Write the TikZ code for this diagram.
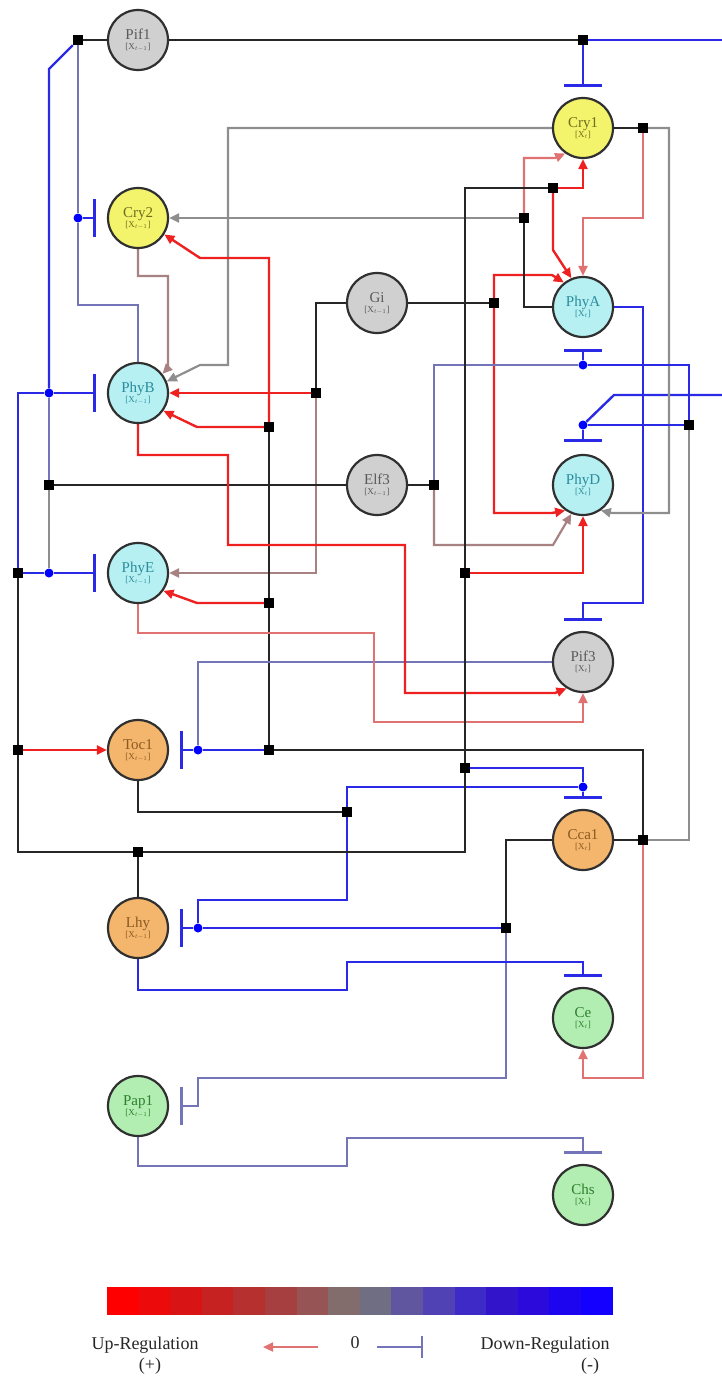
\documentclass[tikz,border=0pt]{standalone}
\usepackage{fontspec}
\setmainfont{Liberation Serif}
\usetikzlibrary{arrows.meta}
\pgfdeclarelayer{bg}
\pgfsetlayers{bg,main}
\definecolor{cBlack}{HTML}{262626}
\definecolor{cGray}{HTML}{8E8E8E}
\definecolor{cRed}{HTML}{EE2020}
\definecolor{cPink}{HTML}{E07272}
\definecolor{cBlue}{HTML}{2A2AE6}
\definecolor{cBlueGray}{HTML}{7474B8}
\definecolor{cBrown}{HTML}{A88282}
\definecolor{fGray}{HTML}{D0D0D0}
\definecolor{fYellow}{HTML}{F4F46C}
\definecolor{fCyan}{HTML}{B6F0F2}
\definecolor{fOrange}{HTML}{F4B56C}
\definecolor{fGreen}{HTML}{B2EEB2}
\definecolor{tGray}{HTML}{5A5A5A}
\definecolor{tYellow}{HTML}{6E6E1E}
\definecolor{tCyan}{HTML}{2A8C9C}
\definecolor{tOrange}{HTML}{8A5A22}
\definecolor{tGreen}{HTML}{2E7E2E}
\definecolor{nBorder}{HTML}{303030}
\newcommand{\gsub}[1]{{\fontsize{9}{9}\selectfont #1}}
\begin{document}
\begin{tikzpicture}[x=1pt,y=-1pt,
  gene/.style={circle, draw=nBorder, line width=2.2pt, minimum size=60pt, inner sep=0pt, align=center, font=\fontsize{15}{13}\selectfont},
  gGray/.style={gene, fill=fGray, text=tGray},
  gYel/.style={gene, fill=fYellow, text=tYellow},
  gCyan/.style={gene, fill=fCyan, text=tCyan},
  gOr/.style={gene, fill=fOrange, text=tOrange},
  gGr/.style={gene, fill=fGreen, text=tGreen},
  junc/.style={rectangle, fill=black, minimum size=10pt, inner sep=0pt},
  bdot/.style={circle, fill=blue, minimum size=9pt, inner sep=0pt},
  arr/.style={-{Triangle[length=10pt,width=9pt]}},
  lk/.style={draw=cBlack, line width=2.5pt},
  lg/.style={draw=cGray, line width=2.2pt},
  lr/.style={draw=cRed, line width=2.4pt, arr},
  lp/.style={draw=cPink, line width=2.2pt, arr},
  lb/.style={draw=cBlue, line width=2.4pt},
  lbg/.style={draw=cBlueGray, line width=2.2pt},
  lbr/.style={draw=cBrown, line width=2.2pt},
  inh/.style={-{Bar[width=38pt,line width=3pt]}},
  inhB/.style={lb, inh},
  inhBG/.style={lbg, inh},
  legend/.style={font=\fontsize{18}{18}\selectfont, text=black!85}
]
\useasboundingbox (0,0) rectangle (722,1382);

% genes
\node[gGray] (Pif1) at (138,40) {Pif1\\[-3pt]\gsub{[X$_{t-1}$]}};
\node[gYel]  (Cry1) at (583,128) {Cry1\\[-3pt]\gsub{[X$_{t}$]}};
\node[gYel]  (Cry2) at (138,218) {Cry2\\[-3pt]\gsub{[X$_{t-1}$]}};
\node[gGray] (Gi)   at (377,303) {Gi\\[-3pt]\gsub{[X$_{t-1}$]}};
\node[gCyan] (PhyA) at (583,307) {PhyA\\[-3pt]\gsub{[X$_{t}$]}};
\node[gCyan] (PhyB) at (138,393) {PhyB\\[-3pt]\gsub{[X$_{t-1}$]}};
\node[gGray] (Elf3) at (377,485) {Elf3\\[-3pt]\gsub{[X$_{t-1}$]}};
\node[gCyan] (PhyD) at (583,485) {PhyD\\[-3pt]\gsub{[X$_{t}$]}};
\node[gCyan] (PhyE) at (138,573) {PhyE\\[-3pt]\gsub{[X$_{t-1}$]}};
\node[gGray] (Pif3) at (583,662) {Pif3\\[-3pt]\gsub{[X$_{t}$]}};
\node[gOr]   (Toc1) at (138,750) {Toc1\\[-3pt]\gsub{[X$_{t-1}$]}};
\node[gOr]   (Cca1) at (583,840) {Cca1\\[-3pt]\gsub{[X$_{t}$]}};
\node[gOr]   (Lhy)  at (138,928) {Lhy\\[-3pt]\gsub{[X$_{t-1}$]}};
\node[gGr]   (Ce)   at (583,1018) {Ce\\[-3pt]\gsub{[X$_{t}$]}};
\node[gGr]   (Pap1) at (138,1106) {Pap1\\[-3pt]\gsub{[X$_{t-1}$]}};
\node[gGr]   (Chs)  at (583,1195) {Chs\\[-3pt]\gsub{[X$_{t}$]}};

% junctions
\node[junc] (jP)  at (78,40) {};
\node[junc] (jT)  at (583,40) {};
\node[junc] (jC1) at (643,128) {};
\node[junc] (jA)  at (524,218) {};
\node[junc] (jL6) at (553,188) {};
\node[junc] (jG)  at (494,303) {};
\node[junc] (jGB) at (316,393) {};
\node[junc] (jK1) at (269,427) {};
\node[junc] (jK2) at (269,603) {};
\node[junc] (jK3) at (269,750) {};
\node[junc] (jEL) at (49,485) {};
\node[junc] (jER) at (434,485) {};
\node[junc] (jL1) at (18,573) {};
\node[junc] (jL2) at (18,750) {};
\node[junc] (jL3) at (138,852) {};
\node[junc] (jL4) at (465,768) {};
\node[junc] (jL5) at (465,573) {};
\node[junc] (jT1) at (347,812) {};
\node[junc] (jCR) at (643,840) {};
\node[junc] (jCR2) at (689,425) {};
\node[junc] (jCL) at (506,928) {};

% inhibition dots
\node[bdot] (dCry2) at (78,218) {};
\node[bdot] (dPhyB) at (49,393) {};
\node[bdot] (dPhyE) at (49,573) {};
\node[bdot] (dPhyA) at (583,365) {};
\node[bdot] (dPhyD) at (583,425) {};
\node[bdot] (dToc)  at (198,750) {};
\node[bdot] (dCca)  at (583,787) {};
\node[bdot] (dLhy)  at (198,928) {};

\coordinate (eR1) at (722,40);
\coordinate (eR2) at (722,395);

\begin{pgfonlayer}{bg}
% Pif1
\draw[lk] (Pif1) -- (jP);
\draw[lk] (Pif1) -- (jT);
\draw[inhB] (jT) -- ([yshift=10pt]Cry1.north);
\draw[lb] (jT) -- (eR1);
\draw[lb] (eR2) -- (614,395) -- (dPhyD);
\draw[inhB] (dPhyD) -- ([yshift=12pt]PhyD.north);
\draw[lb] (jP) -- (49,69) -- (dPhyB);
\draw[lbg] (jP) -- (dCry2) -- (78,305) -- (138,305) -- (PhyB.north);
\draw[inhB] (dCry2) -- ([xshift=-11pt]Cry2.west);
% Cry2 -> PhyB, Cry1 -> PhyB
\draw[lbr,arr] (Cry2.south) -- (138,276) -- (168,276) -- (168,368) -- (PhyB.38);
\draw[lg,arr] (Cry1.west) -- (228,128) -- (228,365) -- (200,365) -- (PhyB.22);
% Gi
\draw[lk] (Gi.west) -- (316,303) -- (jGB);
\draw[lr] (jGB) -- (PhyB.east);
\draw[lbr,arr] (jGB) -- (316,573) -- (PhyE.east);
\draw[lk] (Gi.east) -- (jG);
\draw[lr] (jG) -- (494,275) -- (552,275) -- (PhyA.128);
\draw[lr] (jG) -- (494,513) -- (552,513) -- (PhyD.-125);
% PhyA
\draw[lk] (PhyA.west) -- (524,307) -- (jA);
\draw[lg,arr] (jA) -- (Cry2.east);
\draw[lp] (jA) -- (524,158) -- (555,158) -- (Cry1.-125);
\draw[inhB] (PhyA.east) -- (643,307) -- (643,603) -- (583,603) -- ([yshift=10pt]Pif3.north);
% Cry1
\draw[lk] (Cry1.east) -- (jC1);
\draw[lg,arr] (jC1) -- (669,128) -- (669,513) -- (612,513) -- (PhyD.-55);
\draw[lp] (jC1) -- (643,218) -- (583,218) -- (PhyA.north);
% Elf3
\draw[lk] (Elf3.west) -- (jEL);
\draw[lbg] (jEL) -- (dPhyB);
\draw[lg] (jEL) -- (dPhyE);
\draw[inhB] (dPhyB) -- ([xshift=-11pt]PhyB.west);
\draw[inhB] (dPhyE) -- ([xshift=-11pt]PhyE.west);
\draw[lk] (Elf3.east) -- (jER);
\draw[lbg] (jER) -- (434,365) -- (dPhyA);
\draw[inhB] (dPhyA) -- ([yshift=-11pt]PhyA.south);
\draw[lbr,arr] (jER) -- (434,545) -- (553,545) -- (PhyD.-112);
% Cca1
\draw[lk] (Cca1.east) -- (jCR);
\draw[lg] (jCR) -- (689,840) -- (jCR2);
\draw[lb] (jCR2) -- (dPhyD);
\draw[lb] (jCR2) -- (689,365) -- (dPhyA);
\draw[lk] (jCR) -- (643,750) -- (jK3);
\draw[lk] (jK3) -- (jK2) -- (jK1);
\draw[lr] (jK1) -- (269,258) -- (200,258) -- (Cry2.-32);
\draw[lr] (jK1) -- (197,427) -- (PhyB.-35);
\draw[lr] (jK2) -- (197,603) -- (PhyE.-35);
\draw[lb] (jK3) -- (dToc);
\draw[inhB] (dToc) -- ([xshift=11pt]Toc1.east);
\draw[lk] (Cca1.west) -- (506,840) -- (jCL);
\draw[lb] (jCL) -- (dLhy);
\draw[inhB] (dLhy) -- ([xshift=11pt]Lhy.east);
\draw[inhBG] (jCL) -- (506,1078) -- (198,1078) -- (198,1106) -- ([xshift=11pt]Pap1.east);
\draw[lp] (jCR) -- (643,1078) -- (583,1078) -- (Ce.south);
% Pif3
\draw[lbg] (Pif3.west) -- (198,662) -- (dToc);
% PhyB, PhyE -> Pif3
\draw[lr] (PhyB.south) -- (138,455) -- (228,455) -- (228,545) -- (405,545) -- (405,693) -- (555,693) -- (Pif3.-122);
\draw[lp] (PhyE.south) -- (138,633) -- (374,633) -- (374,722) -- (583,722) -- (Pif3.south);
% Toc1
\draw[lk] (Toc1.south) -- (138,812) -- (jT1);
\draw[lb] (jT1) -- (347,787) -- (dCca);
\draw[inhB] (dCca) -- ([yshift=10pt]Cca1.north);
\draw[lb] (jT1) -- (347,900) -- (198,900) -- (dLhy);
% Lhy
\draw[lk] (Lhy.north) -- (jL3);
\draw[lk] (jL3) -- (18,852) -- (jL2);
\draw[lk] (jL2) -- (jL1);
\draw[lr] (jL2) -- (Toc1.west);
\draw[lb] (jL1) -- (18,393) -- (dPhyB);
\draw[lb] (jL1) -- (dPhyE);
\draw[lk] (jL3) -- (465,852) -- (jL4);
\draw[lk] (jL4) -- (jL5);
\draw[lk] (jL5) -- (465,188) -- (jL6);
\draw[lb] (jL4) -- (583,768) -- (dCca);
\draw[lr] (jL5) -- (583,573) -- (PhyD.south);
\draw[lr] (jL6) -- (583,188) -- (Cry1.south);
\draw[lr] (jL6) -- (553,250) -- (PhyA.112);
\draw[inhB] (Lhy.south) -- (138,990) -- (347,990) -- (347,962) -- (583,962) -- ([yshift=10pt]Ce.north);
% Pap1
\draw[inhBG] (Pap1.south) -- (138,1166) -- (347,1166) -- (347,1138) -- (583,1138) -- ([yshift=10pt]Chs.north);
\end{pgfonlayer}

% legend
\foreach \i/\r/\g/\b in {0/255/0/0,1/236/10/10,2/216/20/20,3/198/34/34,4/182/48/48,5/166/64/64,6/150/84/84,7/130/108/108,8/112/110/130,9/96/86/160,10/80/66/180,11/62/42/198,12/50/20/202,13/44/10/220,14/30/5/240,15/20/0/255}{
  \definecolor{segc}{RGB}{\r,\g,\b}
  \fill[segc] (107+\i*31.6,1287) rectangle (107+\i*31.6+31.8,1315);
}
\node[legend] (up) at (145,1345) {Up-Regulation};
\node[legend] (upp) at (150,1366) {(+)};
\node[legend] (zero) at (355,1343) {0};
\node[legend] (down) at (545,1345) {Down-Regulation};
\node[legend] (downm) at (590,1366) {(-)};
\coordinate (la1) at (318,1347);
\coordinate (la2) at (263,1347);
\coordinate (lb1) at (377,1347);
\coordinate (lb2) at (423,1347);
\draw[lp] (la1) -- (la2);
\draw[lbg,-{Bar[width=22pt,line width=2pt]}] (lb1) -- (lb2);
\end{tikzpicture}
\end{document}
